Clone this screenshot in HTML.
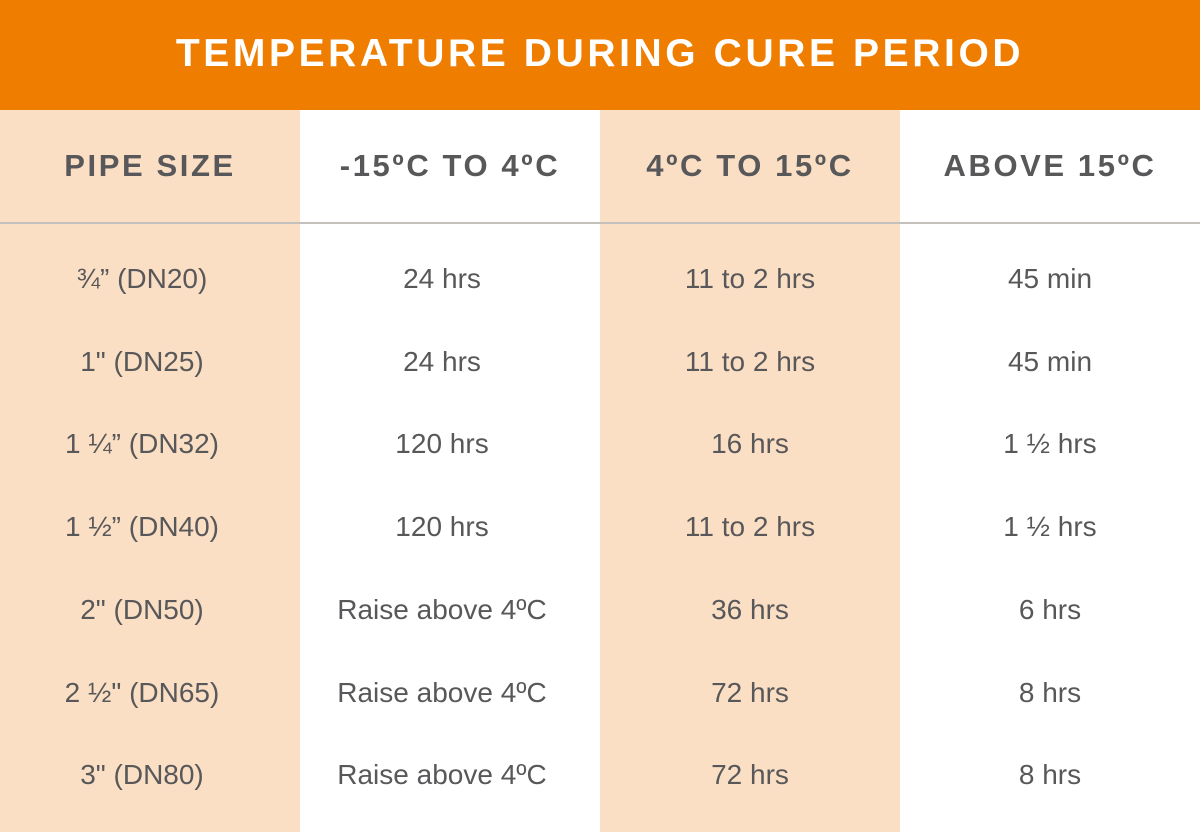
<!DOCTYPE html>
<html><head><meta charset="utf-8">
<style>
html,body{margin:0;padding:0;}
body{width:1200px;height:832px;overflow:hidden;background:#fff;font-family:"Liberation Sans",sans-serif;position:relative;}
.title{position:absolute;left:0;top:0;width:1200px;height:110px;background:#ef7d00;color:#fff;font-weight:bold;font-size:39px;letter-spacing:3.6px;text-align:center;line-height:108px;}
.col{position:absolute;top:110px;width:300px;height:722px;}
.peach{background:#fbdfc4;}
.hline{position:absolute;left:0;top:222px;width:1200px;height:2px;background:#c4c0bc;}
.hd{position:absolute;top:110px;height:112px;width:300px;text-align:center;line-height:112px;font-weight:bold;font-size:31px;color:#58585a;letter-spacing:2.6px;}
.cell{position:absolute;width:300px;text-align:center;font-size:28px;color:#58585a;line-height:30px;}
</style></head><body>
<div class="title">TEMPERATURE DURING CURE PERIOD</div>
<div class="col peach" style="left:0"></div>
<div class="col peach" style="left:600px"></div>
<div class="hline"></div>
<div class="hd" style="left:0">PIPE SIZE</div>
<div class="hd" style="left:300px">-15ºC TO 4ºC</div>
<div class="hd" style="left:600px">4ºC TO 15ºC</div>
<div class="hd" style="left:900px">ABOVE 15ºC</div>
<script>
const sizes=["¾” (DN20)","1\" (DN25)","1 ¼” (DN32)","1 ½” (DN40)","2\" (DN50)","2 ½\" (DN65)","3\" (DN80)"];
const cold=["24 hrs","24 hrs","120 hrs","120 hrs","Raise above 4ºC","Raise above 4ºC","Raise above 4ºC"];
const mid=["11 to 2 hrs","11 to 2 hrs","16 hrs","11 to 2 hrs","36 hrs","72 hrs","72 hrs"];
const warm=["45 min","45 min","1 ½ hrs","1 ½ hrs","6 hrs","8 hrs","8 hrs"];
const cols=[sizes,cold,mid,warm];
const names=["pipe-size","cold","mid","warm"];
const offs=[-8,-8,0,0];
cols.forEach((arr,c)=>{
  arr.forEach((v,r)=>{
    const d=document.createElement('div');
    d.className='cell';
    d.style.left=(c*300+offs[c])+'px';
    d.style.top=(279+r*82.7-15)+'px';
    d.textContent=v;
    
    
    document.body.appendChild(d);
  });
});
</script>
</body></html>
